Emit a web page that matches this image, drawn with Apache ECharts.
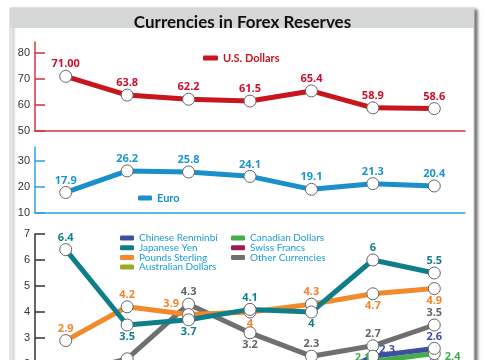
<!DOCTYPE html>
<html>
<head>
<meta charset="utf-8">
<script src="https://cdn.jsdelivr.net/npm/echarts@6/dist/echarts.min.js"></script>
<style>
html,body{margin:0;padding:0;background:#fff;}
#chart{width:485px;height:360px;}
</style>
</head>
<body>
<div id="chart"></div>
<script>
// ---- data ----
const categories = ["1999", "2008", "2010", "2012", "2016", "2020", "2022"];
const usdValues = [71.0, 63.8, 62.2, 61.5, 65.4, 58.9, 58.6];
const usdLabels = ["71.00", "63.8", "62.2", "61.5", "65.4", "58.9", "58.6"];
const euroValues = [17.9, 26.2, 25.8, 24.1, 19.1, 21.3, 20.4];
const renminbiValues = [null, null, null, null, 1.1, 2.3, 2.6];
const yenValues = [6.4, 3.5, 3.7, 4.1, 4.0, 6.0, 5.5];
const poundsValues = [2.9, 4.2, 3.9, 4.0, 4.3, 4.7, 4.9];
const australianValues = [null, null, null, 1.5, 1.7, 1.8, 2.0];
const canadianValues = [null, null, null, 1.4, 1.9, 2.1, 2.4];
const swissValues = [0.2, 0.1, 0.1, 0.2, 0.2, 0.2, 0.2];
const otherValues = [1.6, 2.2, 4.3, 3.2, 2.3, 2.7, 3.5];
const usdTicks = [50, 60, 70, 80];
const euroTicks = [10, 20, 30];
const otherTicks = [0, 1, 2, 3, 4, 5, 6, 7];

// ---- styles ----
const C = {
  usd: '#c8161e', euro: '#1a8fca', renminbi: '#3d4fa1', yen: '#0e7f88',
  pounds: '#f28a2c', australian: '#9caa1f', canadian: '#43ad4a',
  swiss: '#9b1c50', other: '#6f6f6f'
};
const labelFont = {fontFamily: 'Open Sans', fontWeight: 'bold', fontSize: 11};

function mkSeries(name, values, color, idx, labelColor, positions, offsets, labelsText) {
  return {
    type: 'line', name: name, xAxisIndex: idx, yAxisIndex: idx,
    symbol: 'circle', symbolSize: 12, connectNulls: false,
    lineStyle: {color: color, width: 5},
    itemStyle: {color: '#fff', borderColor: '#666', borderWidth: 1},
    emphasis: {disabled: true},
    data: values.map((v, i) => ({
      value: v,
      label: {
        show: v !== null,
        position: positions[i] || 'top',
        distance: 0,
        offset: (offsets && offsets[i]) || [0, 0],
        formatter: labelsText ? labelsText[i] : '{c}',
        color: labelColor, ...labelFont
      }
    }))
  };
}

const T = 'top', B = 'bottom', L = 'left', R = 'right';

function xAxis(idx, color) {
  return {
    type: 'category', gridIndex: idx, data: categories, boundaryGap: true,
    axisLine: {lineStyle: {color: color, width: 1.5}},
    axisTick: {inside: true, length: 5, lineStyle: {color: color, width: 1.5}},
    axisLabel: {show: idx === 2, color: '#333', fontFamily: 'Liberation Sans', fontSize: 11},
    splitLine: {show: false}
  };
}
function yAxis(idx, color, min, max, ticks) {
  return {
    type: 'value', gridIndex: idx, min: min, max: max,
    axisLine: {show: true, lineStyle: {color: color, width: 1.5}},
    axisTick: {show: true, inside: true, length: 10, customValues: ticks, lineStyle: {color: color, width: 1.5}},
    axisLabel: {customValues: ticks, color: '#333', fontFamily: 'Liberation Sans', fontSize: 11, margin: 5},
    splitLine: {show: false}
  };
}

const legendText = {fontFamily: 'Lato', fontSize: 10, lineHeight: 10, color: '#1b9bd3'};
function legendItem(name, color) {
  return {name: name, itemStyle: {color: color, borderWidth: 0}};
}

const option = {
  animation: false,
  backgroundColor: '#fff',
  title: {
    text: 'Currencies in Forex Reserves', left: 'center', top: 8,
    textStyle: {fontFamily: 'Lato', fontWeight: 'bold', fontSize: 17, color: '#111', lineHeight: 20}
  },
  graphic: [
    {type: 'rect', z: -10, shape: {x: 10, y: 8, width: 464, height: 380},
      style: {fill: '#fff', stroke: '#cfcfcf', lineWidth: 1, shadowColor: 'rgba(0,0,0,0.55)', shadowBlur: 3, shadowOffsetX: 3, shadowOffsetY: 2}},
    {type: 'rect', z: -9, shape: {x: 10, y: 8, width: 464, height: 20},
      style: {fill: '#d6d7d7'}}
  ],
  grid: [
    {left: 35, right: 20, top: 42, height: 89, outerBoundsMode: 'none', containLabel: false},
    {left: 35, right: 20, top: 147, height: 66, outerBoundsMode: 'none', containLabel: false},
    {left: 35, right: 20, top: 234, height: 182, outerBoundsMode: 'none', containLabel: false}
  ],
  xAxis: [xAxis(0, '#d0343f'), xAxis(1, '#2aa5dc'), xAxis(2, '#333')],
  yAxis: [
    yAxis(0, '#d0343f', 50, 84.2, usdTicks),
    yAxis(1, '#2aa5dc', 10, 35.4, euroTicks),
    yAxis(2, '#333', 0, 7, otherTicks)
  ],
  legend: [
    {left: 203, top: 52, padding: 0, itemWidth: 15, itemHeight: 5, icon: 'roundRect',
      textStyle: {fontFamily: 'Lato', fontWeight: 'bold', fontSize: 11, lineHeight: 12, color: C.usd},
      data: [legendItem('U.S. Dollars', C.usd)], selectedMode: false},
    {left: 138, top: 192, padding: 0, itemWidth: 14, itemHeight: 5, icon: 'roundRect',
      textStyle: {fontFamily: 'Lato', fontWeight: 'bold', fontSize: 11, lineHeight: 12, color: C.euro},
      data: [legendItem('Euro', C.euro)], selectedMode: false},
    {left: 120, top: 233, padding: 0, orient: 'vertical', itemWidth: 14, itemHeight: 5, itemGap: -0.3, icon: 'roundRect',
      textStyle: legendText, selectedMode: false,
      data: [legendItem('Chinese Renminbi', C.renminbi), legendItem('Japanese Yen', C.yen),
             legendItem('Pounds Sterling', C.pounds), legendItem('Australian Dollars', C.australian)]},
    {left: 231, top: 233, padding: 0, orient: 'vertical', itemWidth: 14, itemHeight: 5, itemGap: -0.3, icon: 'roundRect',
      textStyle: legendText, selectedMode: false,
      data: [legendItem('Canadian Dollars', C.canadian), legendItem('Swiss Francs', C.swiss),
             legendItem('Other Currencies', C.other)]}
  ],
  series: [
    mkSeries('U.S. Dollars', usdValues, C.usd, 0, '#c8102e', [T,T,T,T,T,T,T], null, usdLabels),
    mkSeries('Euro', euroValues, C.euro, 1, '#1b95d0', [T,T,T,T,T,T,T]),
    mkSeries('Swiss Francs', swissValues, C.swiss, 2, C.swiss, [B,B,B,B,B,B,B]),
    mkSeries('Australian Dollars', australianValues, C.australian, 2, C.australian, [B,B,B,B,B,B,B]),
    mkSeries('Other Currencies', otherValues, C.other, 2, '#666', [B,B,T,B,T,T,T]),
    mkSeries('Pounds Sterling', poundsValues, C.pounds, 2, '#f0862a', [T,T,L,B,T,B,B], [null,null,[-3,-11]]),
    mkSeries('Japanese Yen', yenValues, C.yen, 2, '#12808c', [T,B,B,T,B,T,T]),
    mkSeries('Canadian Dollars', canadianValues, C.canadian, 2, C.canadian, [B,B,B,B,B,L,R], [null,null,null,null,null,[4,-4],[4,3]]),
    mkSeries('Chinese Renminbi', renminbiValues, C.renminbi, 2, C.renminbi, [B,B,B,B,B,R,T], [null,null,null,null,null,[0,-6],null])
  ]
};

const chart = echarts.init(document.getElementById('chart'), null, {renderer: 'canvas'});
chart.setOption(option);
</script>
</body>
</html>
